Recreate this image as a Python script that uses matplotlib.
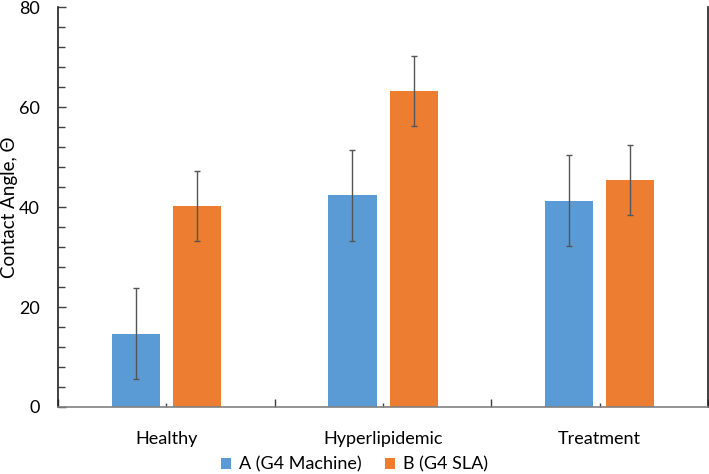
import numpy as np
import matplotlib.pyplot as plt
from matplotlib.ticker import MultipleLocator, FixedLocator

categories = ['Healthy', 'Hyperlipidemic', 'Treatment']
machine = [14.7, 42.4, 41.3]
machine_err = [9.1, 9.1, 9.1]
sla = [40.3, 63.3, 45.4]
sla_err = [7.0, 7.0, 7.0]
series_names = ['A (G4 Machine)', 'B (G4 SLA)']

plt.rcParams['font.family'] = ['Lato', 'DejaVu Sans']

fig = plt.figure(figsize=(7.09, 4.74), dpi=100)
ax = fig.add_axes([0.0818, 0.1414, 0.9168, 0.8436])

x = np.arange(len(categories))
w = 0.222
off = 0.141
ekw = dict(ecolor='#555555', elinewidth=1.0, capsize=2.5, capthick=1.0)
ax.bar(x - off, machine, w, color='#5B9BD5', yerr=machine_err,
       error_kw=ekw, label=series_names[0], zorder=2)
ax.bar(x + off, sla, w, color='#ED7D31', yerr=sla_err,
       error_kw=ekw, label=series_names[1], zorder=2)

ax.set_xlim(-0.5, len(categories) - 0.5)
ax.set_ylim(0, 80)

ax.yaxis.set_major_locator(MultipleLocator(20))
ax.yaxis.set_minor_locator(MultipleLocator(4))
ax.tick_params(axis='y', which='both', direction='in', color='#404040',
               labelsize=13, pad=13)
ax.tick_params(axis='y', which='major', length=6, width=1)
ax.tick_params(axis='y', which='minor', length=5, width=1)

ax.set_xticks(x)
ax.set_xticklabels(categories)
ax.xaxis.set_minor_locator(FixedLocator(np.arange(-0.5, len(categories), 1.0)))
ax.tick_params(axis='x', which='major', direction='in', length=3, width=1,
               color='#404040', labelsize=13, pad=17)
ax.tick_params(axis='x', which='minor', direction='in', length=6, width=1,
               color='#404040')

ax.spines['top'].set_visible(False)
ax.spines['left'].set_color('#202020')
ax.spines['right'].set_color('#202020')
ax.spines['bottom'].set_color('#808080')
for s in ['left', 'right', 'bottom']:
    ax.spines[s].set_linewidth(1.2)

ax.set_ylabel('Contact Angle, Θ', fontsize=13.5)
ax.yaxis.set_label_coords(-0.061, 0.5)

fig.legend(*ax.get_legend_handles_labels(), loc='center',
           bbox_to_anchor=(0.5, 0.02), ncol=2, frameon=False, fontsize=13,
           handlelength=0.55, handleheight=0.55, handletextpad=0.45,
           columnspacing=1.3, borderaxespad=0, borderpad=0)

fig.savefig('out.png', dpi=100)
